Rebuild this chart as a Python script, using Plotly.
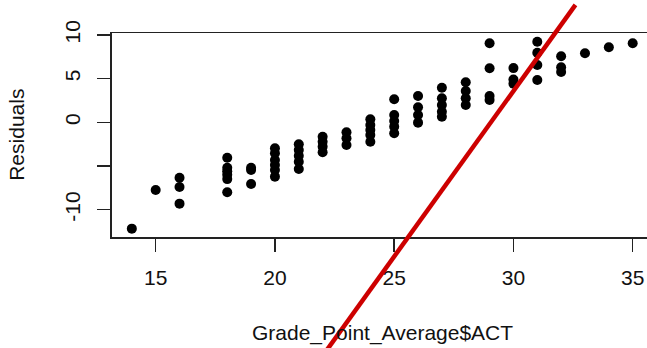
import plotly.graph_objects as go

# ---- data ----
act_scores = [14,
              15,
              16, 16, 16,
              18, 18, 18, 18, 18, 18,
              19, 19, 19,
              20, 20, 20, 20, 20, 20,
              21, 21, 21, 21, 21,
              22, 22, 22, 22,
              23, 23, 23,
              24, 24, 24, 24, 24,
              25, 25, 25, 25, 25,
              26, 26, 26, 26,
              27, 27, 27, 27, 27,
              28, 28, 28, 28,
              29, 29, 29, 29,
              30, 30, 30,
              31, 31, 31, 31,
              32, 32, 32,
              33,
              34,
              35]
residuals = [-12.17,
             -7.75,
             -6.34, -7.40, -9.31,
             -4.05, -5.2, -5.6, -6.0, -6.5, -8.0,
             -5.2, -5.45, -7.06,
             -2.98, -3.55, -4.31, -4.89, -5.46, -6.22,
             -2.52, -3.17, -3.82, -4.51, -5.34,
             -1.65, -2.22, -2.79, -3.43,
             -1.14, -1.83, -2.6,
             0.34, -0.31, -0.88, -1.45, -2.22,
             2.63, 0.84, 0.15, -0.50, -1.26,
             3.01, 1.72, 0.84, -0.04,
             3.96, 2.75, 1.98, 1.21, 0.64,
             4.58, 3.58, 2.75, 1.98,
             9.04, 6.18, 3.01, 2.55,
             6.2, 4.9, 4.4,
             9.22, 7.96, 6.56, 4.84,
             7.55, 6.3, 5.75,
             7.89,
             8.58,
             9.04]

x_ticks = [15, 20, 25, 30, 35]
x_tick_labels = ["15", "20", "25", "30", "35"]
y_ticks = [-10, -5, 0, 5, 10]
y_tick_labels = ["-10", "", "0", "5", "10"]

# red reference line (abline): intercept, slope and the x span it was drawn over
line_intercept = -110.06
line_slope = 3.788
line_x_span = [21.0, 32.6]

x_label = "Grade_Point_Average$ACT"
y_label = "Residuals"

# ---- layout geometry ----
W, H = 647, 348
x_range = [13.16, 35.60]
x_dom = [111.8 / W, 1.0]
y_range = [-13.16, 10.18]
y_dom = [(H - 237.3) / H, (H - 33.3) / H]


def extend(rng, dom):
    span = (rng[1] - rng[0]) / (dom[1] - dom[0])
    return [rng[0] - dom[0] * span, rng[1] + (1 - dom[1]) * span]


FONT = "Liberation Sans, Arial, sans-serif"
INK = "#111111"

fig = go.Figure()
fig.add_trace(go.Scatter(x=act_scores, y=residuals, mode="markers",
                         marker=dict(size=10, color="black"),
                         xaxis="x", yaxis="y", showlegend=False,
                         cliponaxis=False))

line_y = [line_intercept + line_slope * v for v in line_x_span]
fig.add_trace(go.Scatter(x=line_x_span, y=line_y, mode="lines",
                         line=dict(color="#CD0000", width=4.5),
                         xaxis="x2", yaxis="y2", showlegend=False))

axis_common = dict(showgrid=False, zeroline=False, showline=True,
                   linecolor="#222222", linewidth=1.5,
                   ticks="outside", ticklen=13, tickwidth=1.5,
                   tickcolor="#222222", automargin=False,
                   tickfont=dict(family=FONT, size=21, color=INK))

fig.update_layout(
    width=W, height=H, autosize=False,
    template="none",
    margin=dict(l=0, r=0, t=0, b=0, pad=0),
    paper_bgcolor="white", plot_bgcolor="rgba(0,0,0,0)",
    xaxis=dict(range=x_range, domain=x_dom, anchor="y", mirror=True,
               tickvals=x_ticks, ticktext=x_tick_labels,
               ticklabelstandoff=8, **axis_common),
    yaxis=dict(range=y_range, domain=y_dom, anchor="x", mirror=False,
               tickvals=y_ticks, ticktext=y_tick_labels, tickangle=-90,
               ticklabelstandoff=9, **axis_common),
    xaxis2=dict(range=extend(x_range, x_dom), domain=[0, 1], anchor="y2",
                visible=False, fixedrange=True),
    yaxis2=dict(range=extend(y_range, y_dom), domain=[0, 1], anchor="x2",
                visible=False, fixedrange=True),
    annotations=[
        dict(text=x_label, xref="paper", yref="paper",
             x=(111.8 + 654) / 2 / W, y=(H - 332.6) / H,
             xanchor="center", yanchor="middle", showarrow=False,
             font=dict(family=FONT, size=21, color=INK)),
        dict(text=y_label, xref="paper", yref="paper",
             x=16.5 / W, y=(H - 135.3) / H, textangle=-90,
             xanchor="center", yanchor="middle", showarrow=False,
             font=dict(family=FONT, size=21, color=INK)),
    ],
)

fig.write_html("out.html",
               config={"displayModeBar": False, "staticPlot": True},
               post_script="document.body.style.margin='0';"
                           "document.body.style.overflow='hidden';")
